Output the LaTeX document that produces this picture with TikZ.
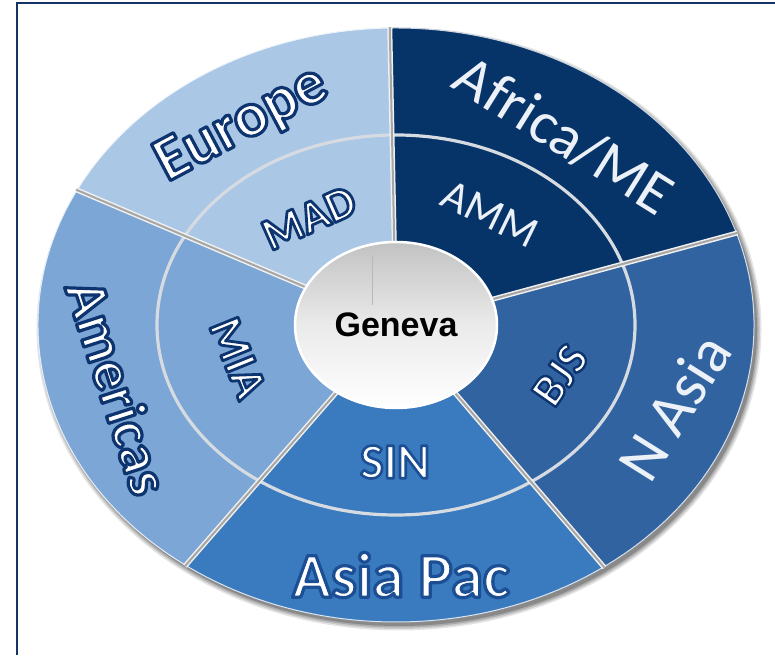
\documentclass[tikz,border=0pt]{standalone}
\usepackage{fontspec}
\setmainfont{Carlito}
\newfontfamily\hubfont{Liberation Sans}
\usetikzlibrary{shapes.geometric}

\definecolor{euro}{RGB}{170,199,230}
\definecolor{amer}{RGB}{123,166,213}
\definecolor{apac}{RGB}{58,122,190}
\definecolor{nasia}{RGB}{49,99,160}
\definecolor{afme}{RGB}{7,52,104}
\definecolor{ringcol}{RGB}{214,219,226}
\definecolor{framecol}{RGB}{20,52,102}
\definecolor{softwhite}{RGB}{236,241,248}

% outlined lettering: white fill, stroke colour given as "r g b"
\newcommand\rimtext[3]{%
  \special{pdf:bcolor [1 1 1] [#1]}%
  \special{pdf:literal direct 2 Tr #2 w 1 j}%
  #3%
  \special{pdf:literal direct 0 Tr}%
  \special{pdf:ecolor}}
\newcommand\navyrim{0.055 0.204 0.439}
\newcommand\bluerim{0.110 0.306 0.580}

\tikzset{
  lbl/.style={inner sep=0pt, anchor=center},
  rimbig/.style={font=\bfseries\fontsize{60}{62}\selectfont},
  rimsmall/.style={font=\bfseries\fontsize{46}{48}\selectfont},
  plainbig/.style={font=\fontsize{60}{62}\selectfont, text=softwhite},
  plainsmall/.style={font=\fontsize{44}{46}\selectfont, text=softwhite},
  divider/.style={line width=5pt, white!88!gray},
  dividercore/.style={line width=2pt, gray!70},
}

\begin{document}
\begin{tikzpicture}[x=1pt,y=1pt]
\useasboundingbox (0,0) rectangle (775,655);

\begin{scope}[shift={(396,330)}]
  % soft drop shadow under the disc
  \foreach \k/\o in {1/0.10,2/0.12,3/0.15,4/0.20}
    \fill[black,opacity=\o] (3,-4) ellipse [x radius={364pt-1.5pt*\k}, y radius={303pt-1.5pt*\k}];

  % region sectors
  \foreach \a/\b/\c in {91/153/euro, 153/234/amer, 234/305.5/apac, 305.5/378/nasia, 18/91/afme}
    \fill[\c, draw=white!80!\c, line width=1pt]
      (\a:358pt and 297pt)
      arc[start angle=\a, end angle=\b, x radius=358pt, y radius=297pt]
      -- (\b:95pt and 78pt)
      arc[start angle=\b, end angle=\a, x radius=95pt, y radius=78pt]
      -- cycle;

  % hub ring
  \draw[ringcol, line width=3.2pt] (0,0) ellipse [x radius=239pt, y radius=190pt];

  % gaps between sectors
  \foreach \t in {91,153,234,305.5,18} {
    \draw[divider] (\t:95pt and 78pt) -- (\t:359pt and 298pt);
    \draw[dividercore] (\t:95pt and 78pt) -- (\t:359pt and 298pt);
  }

  % central hub
  \node[ellipse, minimum width=202pt, minimum height=166pt, inner sep=0pt,
        top color=black!24, bottom color=white, middle color=black!8,
        draw=white, line width=2.5pt,
        font=\hubfont\bfseries\fontsize{34}{36}\selectfont] (geneva) at (0,0) {Geneva};
  \draw[gray!55, line width=0.5pt] (-24,69) -- (-24,20);
\end{scope}

% outer region names
\node[lbl, rimbig, font=\bfseries\fontsize{63}{65}\selectfont, rotate=28] (europe) at (242,530) {\rimtext{\navyrim}{3.2}{Europe}};
\node[lbl, rimbig, font=\bfseries\fontsize{58}{60}\selectfont, rotate=-72] (americas) at (118,268) {\rimtext{\navyrim}{3.2}{Americas}};
\node[lbl, plainbig, rotate=-32] (africa) at (564,520) {Africa/ME};
\node[lbl, plainbig, font=\fontsize{62}{64}\selectfont, rotate=58] (nasia) at (674,248) {N Asia};
\node[lbl, rimbig, font=\bfseries\fontsize{64}{66}\selectfont] (asiapac) at (401,80) {\rimtext{\bluerim}{3.2}{Asia Pac}};

% hub airport codes
\node[lbl, rimsmall, rotate=24] (mad) at (309,437) {\rimtext{\navyrim}{2.8}{MAD}};
\node[lbl, rimsmall, font=\bfseries\fontsize{47}{49}\selectfont, rotate=-68] (mia) at (238,297) {\rimtext{\navyrim}{2.8}{MIA}};
\node[lbl, plainsmall, rotate=-26] (amm) at (490,441) {AMM};
\node[lbl, rimsmall, font=\bfseries\fontsize{46}{48}\selectfont, rotate=55] (bjs) at (560,280) {\rimtext{\navyrim}{2.4}{BJS}};
\node[lbl, rimsmall, font=\bfseries\fontsize{50}{52}\selectfont] (sin) at (395,193) {\rimtext{\bluerim}{2.6}{SIN}};

% frame
\draw[framecol, line width=2pt] (16.5,0) -- (16.5,651.5) -- (776,651.5);
\end{tikzpicture}
\end{document}
